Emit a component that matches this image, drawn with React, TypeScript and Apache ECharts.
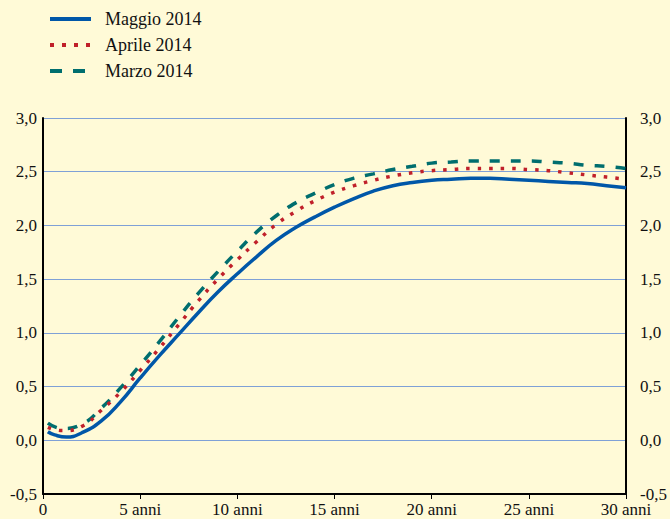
import React, { useEffect, useRef } from "react";
import * as echarts from "echarts";

const seriesNames = ["Maggio 2014", "Aprile 2014", "Marzo 2014"];

const maggio: [number, number][] = [
  [0.25, 0.08], [0.6, 0.05], [1.2, 0.03], [2, 0.07], [3, 0.18], [4, 0.36], [5, 0.58],
  [6, 0.79], [7, 0.99], [8, 1.19], [9, 1.38], [10, 1.55], [11, 1.71], [12, 1.86],
  [13, 1.98], [14, 2.08], [15, 2.17], [16, 2.25], [17, 2.32], [18, 2.37], [19, 2.4],
  [20, 2.42], [21, 2.43], [22, 2.44], [23, 2.44], [24, 2.43], [25, 2.42], [26, 2.41],
  [27, 2.4], [28, 2.39], [29, 2.37], [30, 2.35],
];

const aprile: [number, number][] = [
  [0.25, 0.12], [1, 0.09], [2, 0.13], [3, 0.28], [4, 0.45], [5, 0.65], [6, 0.86],
  [7, 1.08], [8, 1.3], [9, 1.5], [10, 1.68], [11, 1.85], [12, 2.01], [13, 2.13],
  [14, 2.23], [15, 2.31], [16, 2.37], [17, 2.42], [18, 2.46], [19, 2.49], [20, 2.51],
  [21, 2.52], [22, 2.53], [23, 2.53], [24, 2.53], [25, 2.52], [26, 2.51], [27, 2.49],
  [28, 2.47], [29, 2.45], [30, 2.43],
];

const marzo: [number, number][] = [
  [0.25, 0.16], [1, 0.11], [2, 0.15], [3, 0.3], [4, 0.49], [5, 0.7], [6, 0.92],
  [7, 1.15], [8, 1.37], [9, 1.57], [10, 1.76], [11, 1.94], [12, 2.09], [13, 2.21],
  [14, 2.3], [15, 2.38], [16, 2.44], [17, 2.48], [18, 2.52], [19, 2.55], [20, 2.58],
  [21, 2.59], [22, 2.6], [23, 2.6], [24, 2.6], [25, 2.6], [26, 2.59], [27, 2.58],
  [28, 2.56], [29, 2.55], [30, 2.53],
];

const xTicks = [0, 5, 10, 15, 20, 25, 30];
const yMin = -0.5;
const yMax = 3.0;

const BG = "#fffad7";
const FONT = "Liberation Serif";
const BLUE = "#0057a8";
const RED = "#c0202a";
const TEAL = "#006e6e";

export default function App() {
  const ref = useRef<HTMLDivElement>(null);

  useEffect(() => {
    document.body.style.margin = "0";
    document.body.style.background = BG;
    if (!ref.current) return;
    const chart = echarts.init(ref.current, undefined, { renderer: "svg" });
    const yLabel = (v: number) => v.toFixed(1).replace(".", ",");
    const yCommon = {
      type: "value" as const,
      min: yMin,
      max: yMax,
      interval: 0.5,
      axisLine: { show: true, lineStyle: { color: "#000", width: 2 } },
      axisTick: { show: false },
    };
    chart.setOption({
      animation: false,
      backgroundColor: BG,
      textStyle: { fontFamily: FONT },
      grid: { left: 43, right: 40, top: 118, bottom: 25 },
      legend: {
        left: 43,
        top: 5,
        orient: "vertical",
        itemWidth: 41,
        itemHeight: 14,
        itemGap: 8,
        data: [
          { name: seriesNames[0], lineStyle: { color: BLUE, width: 4, type: "solid" } },
          { name: seriesNames[1], lineStyle: { color: RED, width: 4, type: [4, 8] } },
          { name: seriesNames[2], lineStyle: { color: TEAL, width: 4, type: [12, 11] } },
        ],
        itemStyle: { opacity: 0 },
        textStyle: { fontFamily: FONT, fontSize: 18, color: "#111", padding: [0, 0, 0, 9] },
      },
      xAxis: {
        type: "value",
        min: 0,
        max: 30,
        interval: 5,
        axisLine: { show: true, onZero: false, lineStyle: { color: "#000", width: 2 } },
        axisTick: { show: true, length: 5, lineStyle: { color: "#000", width: 1 } },
        splitLine: { show: false },
        axisLabel: {
          fontFamily: FONT,
          fontSize: 17,
          color: "#111",
          margin: 7,
          formatter: (v: number) => (xTicks.indexOf(v) === 0 ? "0" : `${v} anni`),
        },
      },
      yAxis: [
        {
          ...yCommon,
          position: "left",
          splitLine: { show: true, lineStyle: { color: "#7fa0d6", width: 1 } },
          axisLabel: { fontFamily: FONT, fontSize: 17, color: "#111", margin: 6, formatter: yLabel },
        },
        {
          ...yCommon,
          position: "right",
          splitLine: { show: false },
          axisLabel: { fontFamily: FONT, fontSize: 17, color: "#111", margin: 14, formatter: yLabel },
        },
      ],
      series: [
        {
          name: seriesNames[2],
          type: "line",
          data: marzo,
          smooth: true,
          symbol: "none",
          lineStyle: { color: TEAL, width: 3.5, type: [10, 11] },
          itemStyle: { color: TEAL },
        },
        {
          name: seriesNames[1],
          type: "line",
          data: aprile,
          smooth: true,
          symbol: "none",
          lineStyle: { color: RED, width: 3.5, type: [3.5, 8] },
          itemStyle: { color: RED },
        },
        {
          name: seriesNames[0],
          type: "line",
          data: maggio,
          smooth: true,
          symbol: "none",
          lineStyle: { color: BLUE, width: 3.5, type: "solid" },
          itemStyle: { color: BLUE },
        },
      ],
    });
    return () => chart.dispose();
  }, []);

  return <div ref={ref} style={{ width: 670, height: 519, background: BG }} />;
}
